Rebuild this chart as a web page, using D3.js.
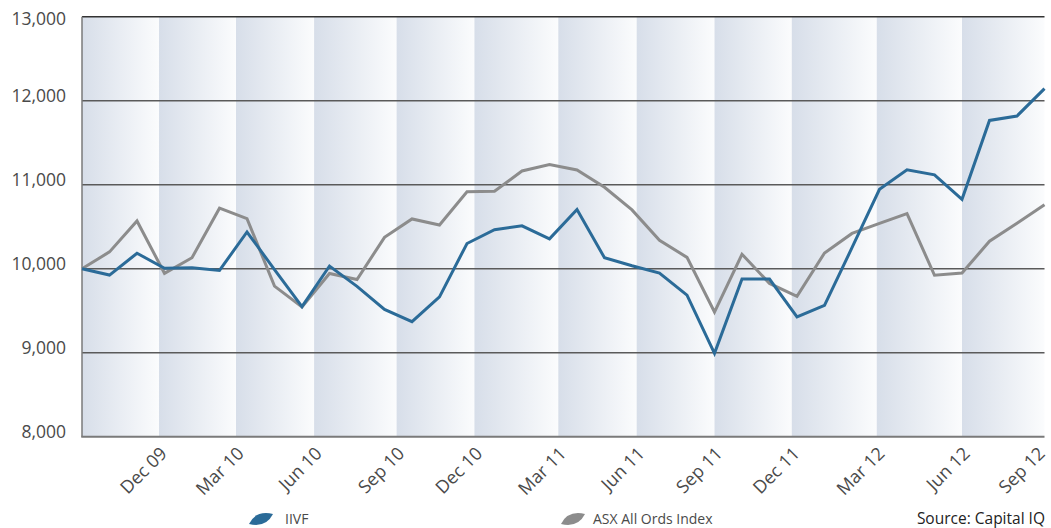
<!DOCTYPE html>
<html lang="en">
<head>
<meta charset="UTF-8">
<title>IIVF vs ASX All Ords Index</title>
<style>
  body { margin: 0; background: #fff; }
  svg text { font-family: "Open Sans", "DejaVu Sans", sans-serif; }
</style>
</head>
<body>
<div id="chart"></div>
<script src="https://cdnjs.cloudflare.com/ajax/libs/d3/7.8.5/d3.min.js"></script>
<script>
// monthly values, Sep 09 .. Aug 12 (growth of 10,000)
const iivf = [10000, 9924, 10184, 10004, 10012, 9980, 10437, 9990, 9548, 10032,
              9790, 9515, 9370, 9665, 10300, 10465, 10510, 10355, 10705, 10130,
              10035, 9948, 9685, 8992, 9877, 9877, 9425, 9563, 10250, 10945,
              11178, 11118, 10826, 11765, 11818, 12143];
const asx  = [10000, 10200, 10568, 9945, 10131, 10720, 10596, 9793, 9546, 9943,
              9872, 10373, 10592, 10520, 10915, 10923, 11163, 11240, 11175, 10970,
              10700, 10338, 10135, 9484, 10172, 9825, 9670, 10187, 10420, 10540,
              10655, 9922, 9948, 10327, 10540, 10760];

// quarter labels and where they fall on the month index
const tickLabels = ["Dec 09", "Mar 10", "Jun 10", "Sep 10", "Dec 10", "Mar 11",
                    "Jun 11", "Sep 11", "Dec 11", "Mar 12", "Jun 12", "Sep 12"];
const tickPos = [2.8, 5.6, 8.44, 11.44, 14.27, 17.32, 20.17, 23.0, 25.81, 28.9, 32.0, 35];

const yTicks = [8000, 9000, 10000, 11000, 12000, 13000];

const W = 1051, H = 528;
const margin = { top: 16.7, right: 6.5, bottom: 91.3, left: 82 };

const svg = d3.select("#chart").append("svg")
    .attr("width", W).attr("height", H);

const x = d3.scaleLinear().domain([0, iivf.length - 1])
    .range([margin.left, W - margin.right]);
const y = d3.scaleLinear().domain([8000, 13000])
    .range([H - margin.bottom, margin.top]);

// band gradient
const grad = svg.append("defs").append("linearGradient")
    .attr("id", "band").attr("x1", 0).attr("x2", 1).attr("y1", 0).attr("y2", 0);
grad.append("stop").attr("offset", 0).attr("stop-color", "#d7dee9");
grad.append("stop").attr("offset", 1).attr("stop-color", "#fbfcfd");

const edges = [0].concat(tickPos);
svg.append("g").selectAll("rect")
    .data(d3.pairs(edges))
    .join("rect")
    .attr("x", d => x(d[0]))
    .attr("y", y(13000))
    .attr("width", d => x(d[1]) - x(d[0]))
    .attr("height", y(8000) - y(13000))
    .attr("fill", "url(#band)");

// grid lines
svg.append("g").selectAll("line")
    .data(yTicks.slice(1))
    .join("line")
    .attr("x1", x(0)).attr("x2", x(35))
    .attr("y1", d => y(d)).attr("y2", d => y(d))
    .attr("stroke", d => d == 13000 ? "#333" : "#5a5a5a")
    .attr("stroke-width", 1.5);

// axes lines
svg.append("line")
    .attr("x1", x(0)).attr("x2", x(0))
    .attr("y1", y(13000)).attr("y2", y(8000))
    .attr("stroke", "#7a7a7a").attr("stroke-width", 1.5);
svg.append("line")
    .attr("x1", x(0) - 0.75).attr("x2", x(35))
    .attr("y1", y(8000)).attr("y2", y(8000))
    .attr("stroke", "#7a7a7a").attr("stroke-width", 2);

// y labels
svg.append("g").selectAll("text")
    .data(yTicks)
    .join("text")
    .attr("x", 66)
    .attr("y", d => Math.max(y(d) + 1, 25))
    .attr("text-anchor", "end")
    .attr("font-size", 17.5)
    .attr("fill", "#4a4a4a")
    .text(d => d3.format(",")(d));

// x labels
svg.append("g").selectAll("text")
    .data(tickLabels)
    .join("text")
    .attr("transform", (d, i) => `translate(${Math.min(x(tickPos[i]) + 9, 1046)},${y(8000) + 18}) rotate(-45)`)
    .attr("text-anchor", "end")
    .attr("font-size", 18)
    .attr("fill", "#4a4a4a")
    .text(d => d);

// series
const line = d3.line().x((d, i) => x(i)).y(d => y(d));
svg.append("path").datum(asx)
    .attr("d", line).attr("fill", "none")
    .attr("stroke", "#8c8c8c").attr("stroke-width", 3);
svg.append("path").datum(iivf)
    .attr("d", line).attr("fill", "none")
    .attr("stroke", "#2b6b98").attr("stroke-width", 3);

// legend
const leaf = "M-12,5 Q-5,-9 12,-5 Q5,9 -12,5 Z";
const legend = [
    { name: "IIVF", color: "#2b6b98", lx: 261, tx: 285 },
    { name: "ASX All Ords Index", color: "#8c8c8c", lx: 573, tx: 593 }
];
const lg = svg.append("g").selectAll("g").data(legend).join("g");
lg.append("path")
    .attr("d", leaf)
    .attr("transform", d => `translate(${d.lx},519)`)
    .attr("fill", d => d.color);
lg.append("text")
    .attr("x", d => d.tx).attr("y", 524)
    .attr("font-size", 14).attr("fill", "#4a4a4a")
    .text(d => d.name);

svg.append("text")
    .attr("x", 1045).attr("y", 524)
    .attr("text-anchor", "end")
    .attr("font-size", 15.5).attr("font-weight", 500).attr("fill", "#222")
    .text("Source: Capital IQ");
</script>
</body>
</html>
